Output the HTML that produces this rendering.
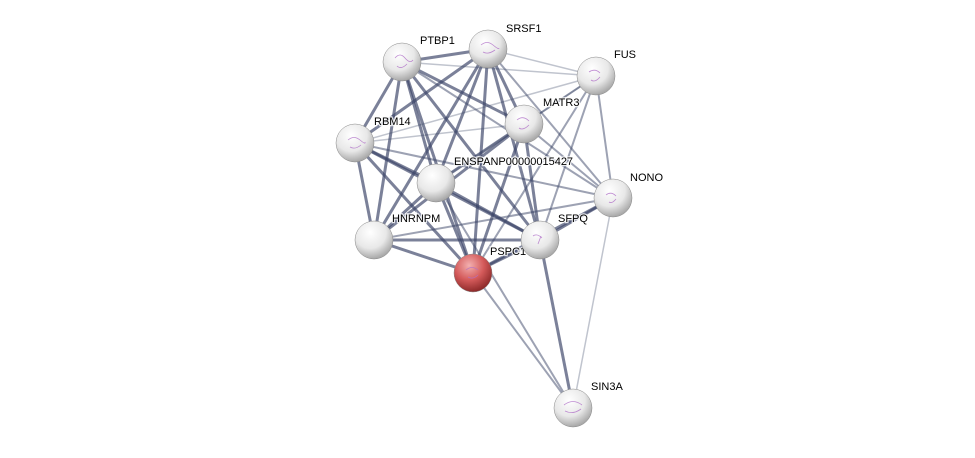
<!DOCTYPE html>
<html><head><style>
html,body{margin:0;padding:0;background:#fff;}
svg text{font-family:"Liberation Sans",sans-serif;font-size:11px;fill:#000;stroke:#fff;stroke-width:2.5px;paint-order:stroke;stroke-opacity:0.8;}
</style></head><body>
<svg width="975" height="453" viewBox="0 0 975 453" xmlns="http://www.w3.org/2000/svg">
<defs>
<radialGradient id="w" cx="40%" cy="30%" r="70%">
<stop offset="0" stop-color="#ffffff"/><stop offset="0.6" stop-color="#e8e8e8"/><stop offset="1" stop-color="#a8a8a8"/>
</radialGradient>
<radialGradient id="r" cx="40%" cy="30%" r="70%">
<stop offset="0" stop-color="#f3b0b0"/><stop offset="0.55" stop-color="#d45a5a"/><stop offset="1" stop-color="#8e2a2a"/>
</radialGradient>
</defs>
<g stroke="#3c4668" fill="none" stroke-linecap="round">
<g stroke-width="3" stroke-opacity="0.68">
<line x1="402" y1="62" x2="488" y2="49"/>
<line x1="402" y1="62" x2="355" y2="143"/>
<line x1="402" y1="62" x2="436" y2="183"/>
<line x1="402" y1="62" x2="374" y2="240"/>
<line x1="402" y1="62" x2="524" y2="124"/>
<line x1="402" y1="62" x2="540" y2="240"/>
<line x1="402" y1="62" x2="473" y2="273"/>
<line x1="488" y1="49" x2="355" y2="143"/>
<line x1="488" y1="49" x2="436" y2="183"/>
<line x1="488" y1="49" x2="374" y2="240"/>
<line x1="488" y1="49" x2="524" y2="124"/>
<line x1="488" y1="49" x2="473" y2="273"/>
<line x1="488" y1="49" x2="540" y2="240"/>
<line x1="355" y1="143" x2="436" y2="183"/>
<line x1="355" y1="143" x2="374" y2="240"/>
<line x1="355" y1="143" x2="540" y2="240"/>
<line x1="355" y1="143" x2="473" y2="273"/>
<line x1="436" y1="183" x2="374" y2="240"/>
<line x1="436" y1="183" x2="540" y2="240"/>
<line x1="436" y1="183" x2="473" y2="273"/>
<line x1="436" y1="183" x2="524" y2="124"/>
<line x1="524" y1="124" x2="540" y2="240"/>
<line x1="524" y1="124" x2="473" y2="273"/>
<line x1="524" y1="124" x2="374" y2="240"/>
<line x1="540" y1="240" x2="473" y2="273"/>
<line x1="540" y1="240" x2="613" y2="198"/>
<line x1="540" y1="240" x2="573" y2="408"/>
<line x1="473" y1="273" x2="613" y2="198"/>
<line x1="374" y1="240" x2="473" y2="273"/>
<line x1="374" y1="240" x2="540" y2="240"/>
</g>
<g stroke-width="2" stroke-opacity="0.5">
<line x1="596" y1="76" x2="540" y2="240"/>
<line x1="596" y1="76" x2="473" y2="273"/>
<line x1="596" y1="76" x2="524" y2="124"/>
<line x1="596" y1="76" x2="613" y2="198"/>
<line x1="524" y1="124" x2="613" y2="198"/>
<line x1="488" y1="49" x2="613" y2="198"/>
<line x1="402" y1="62" x2="613" y2="198"/>
<line x1="374" y1="240" x2="613" y2="198"/>
<line x1="355" y1="143" x2="613" y2="198"/>
<line x1="473" y1="273" x2="573" y2="408"/>
<line x1="436" y1="183" x2="573" y2="408"/>
</g>
<g stroke-width="1.5" stroke-opacity="0.32">
<line x1="488" y1="49" x2="596" y2="76"/>
<line x1="402" y1="62" x2="596" y2="76"/>
<line x1="355" y1="143" x2="596" y2="76"/>
<line x1="355" y1="143" x2="524" y2="124"/>
<line x1="613" y1="198" x2="573" y2="408"/>
<line x1="436" y1="183" x2="596" y2="76"/>
</g>
</g>
<g>
<text x="420" y="44">PTBP1</text>
<text x="506" y="32">SRSF1</text>
<text x="614" y="58">FUS</text>
<text x="543" y="106">MATR3</text>
<text x="374" y="125">RBM14</text>
<text x="454" y="165">ENSPANP00000015427</text>
<text x="630" y="181">NONO</text>
<text x="392" y="222">HNRNPM</text>
<text x="558" y="222">SFPQ</text>
<text x="490" y="255">PSPC1</text>
<text x="591" y="390">SIN3A</text>
</g>
<g stroke="#888" stroke-width="0.5">
<circle cx="402" cy="62" r="19" fill="url(#w)"/>
<circle cx="488" cy="49" r="19" fill="url(#w)"/>
<circle cx="596" cy="76" r="19" fill="url(#w)"/>
<circle cx="524" cy="124" r="19" fill="url(#w)"/>
<circle cx="355" cy="143" r="19" fill="url(#w)"/>
<circle cx="436" cy="183" r="19" fill="url(#w)"/>
<circle cx="613" cy="198" r="19" fill="url(#w)"/>
<circle cx="374" cy="240" r="19" fill="url(#w)"/>
<circle cx="540" cy="240" r="19" fill="url(#w)"/>
<circle cx="473" cy="273" r="19" fill="url(#r)"/>
<circle cx="573" cy="408" r="19" fill="url(#w)"/>
</g>
<g fill="none" stroke="#b070c8" stroke-width="0.8" opacity="0.8">
<path d="M395 58 q5 -6 10 0 t8 2 M397 66 q4 4 10 -2"/>
<path d="M481 45 q6 -5 12 0 t6 3 M483 52 q5 3 12 -2"/>
<path d="M589 72 q6 -4 11 1 M591 80 q4 3 9 -3"/>
<path d="M517 120 q6 -5 12 1 M519 128 q4 3 10 -3"/>
<path d="M348 140 q6 -5 12 0 t5 2 M350 147 q5 3 11 -2"/>
<path d="M606 195 q5 -4 10 1 M609 202 q3 2 7 -3"/>
<path d="M533 236 q4 -3 9 2 M538 244 l3 -8"/>
<path d="M466 270 q6 -5 12 0 M468 277 q5 3 10 -2"/>
<path d="M564 405 q9 -7 18 0 M565 411 q8 4 16 -2"/>
</g>
</svg>
</body></html>
